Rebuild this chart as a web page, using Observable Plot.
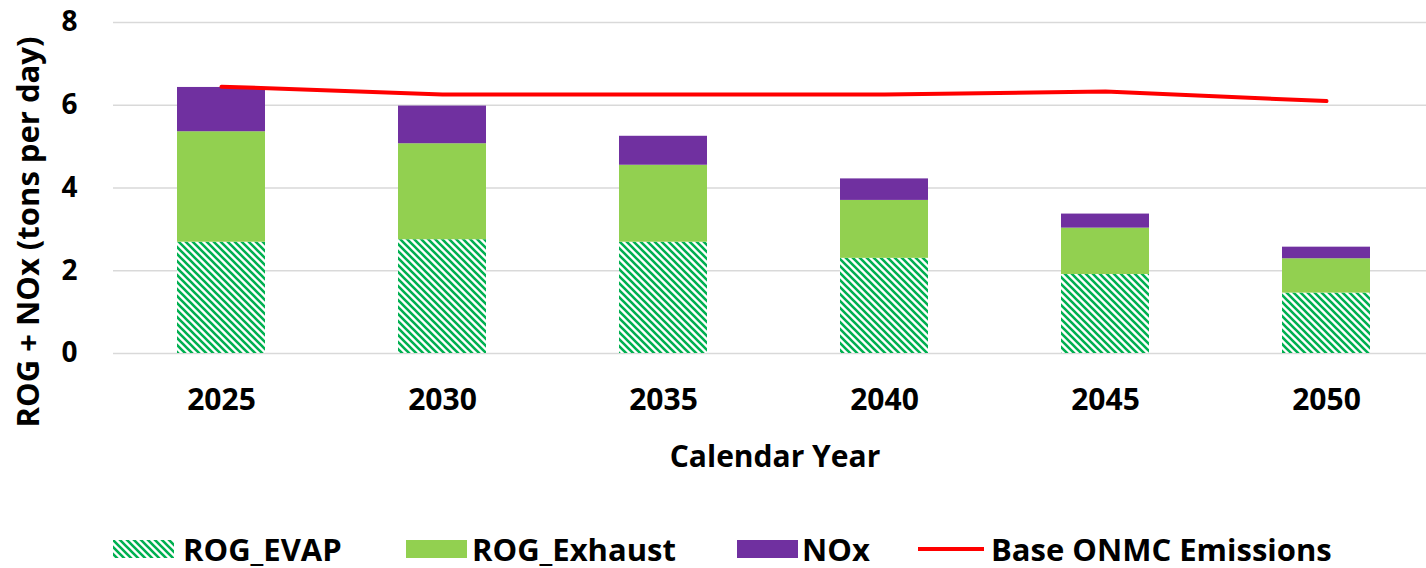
<!DOCTYPE html>
<html><head><meta charset="utf-8">
<script src="https://cdn.jsdelivr.net/npm/d3@7"></script>
<script src="https://cdn.jsdelivr.net/npm/@observablehq/plot@0.6"></script>
<style>
body{margin:0;background:#fff;font-family:"Open Sans",sans-serif;}
#legend{position:relative;width:1426px;height:68px;}
.sw{position:absolute;top:40px;height:18px;width:61px;}
.lt{position:absolute;top:30px;height:38px;line-height:38px;font-size:31px;font-weight:700;color:#000;white-space:nowrap;}
</style></head><body><div id="chart"></div><div id="legend"></div>
<script>
const years = ["2025","2030","2035","2040","2045","2050"];
const seriesNames = ["ROG_EVAP","ROG_Exhaust","NOx"];
const rogEvap = [2.69,2.75,2.69,2.30,1.91,1.46];
const rogExhaust = [2.67,2.32,1.86,1.40,1.12,0.83];
const nox = [1.07,0.91,0.70,0.52,0.34,0.28];
const baseEmissions = [6.45,6.26,6.26,6.26,6.33,6.10];
const yTicks = [0,2,4,6,8];
const colors = ["url(#hatch)","#92D050","#7030A0"];

const seriesValues = [rogEvap, rogExhaust, nox];
const rows = [];
years.forEach((yr,i)=>seriesNames.forEach((s,j)=>rows.push({year:yr, series:s, value:seriesValues[j][i]})));
const lineRows = years.map((yr,i)=>({year:yr, v:baseEmissions[i]}));

const chart = Plot.plot({
  width:1426, height:500,
  marginLeft:113, marginRight:0, marginTop:22, marginBottom:147,
  style:{fontFamily:"'Open Sans', sans-serif", fontWeight:"700", color:"#000", background:"#fff", overflow:"visible"},
  x:{domain:years, paddingInner:0.6, paddingOuter:0.27, align:0.535, label:null},
  y:{domain:[0,8], label:null},
  color:{domain:seriesNames, range:colors},
  marks:[
    Plot.gridY(yTicks, {stroke:"#D9D9D9", strokeOpacity:1, strokeWidth:1.5}),
    Plot.axisY(yTicks, {tickSize:0, tickPadding:36, label:null, fontSize:28}),
    Plot.axisX({tickSize:0, tickPadding:35, label:null, fontSize:30}),
    Plot.barY(rows, {x:"year", y:"value", fill:"series"}),
    Plot.line(lineRows, {x:"year", y:"v", stroke:"#FF0000", strokeWidth:4}),
    Plot.text(["Calendar Year"], {frameAnchor:"bottom", textAnchor:"middle", dx:5, dy:113, fontSize:30, fontWeight:"bold", fill:"#000"}),
    Plot.text(["ROG + NOx (tons per day)"], {frameAnchor:"left", textAnchor:"middle", rotate:-90, dx:-84, dy:44, fontSize:31, fontWeight:"bold", fill:"#000"})
  ]
});
const ns = "http://www.w3.org/2000/svg";
function makePattern(id){
  const p = document.createElementNS(ns,"pattern");
  p.setAttribute("id",id); p.setAttribute("patternUnits","userSpaceOnUse");
  p.setAttribute("width","7"); p.setAttribute("height","7");
  const r = document.createElementNS(ns,"rect");
  r.setAttribute("width","7"); r.setAttribute("height","7"); r.setAttribute("fill","#fff");
  const path = document.createElementNS(ns,"path");
  path.setAttribute("d","M0,0L7,7M-3.5,3.5L3.5,10.5M3.5,-3.5L10.5,3.5");
  path.setAttribute("stroke","#00B050"); path.setAttribute("stroke-width","2.6");
  p.appendChild(r); p.appendChild(path);
  const defs = document.createElementNS(ns,"defs"); defs.appendChild(p);
  return defs;
}
chart.insertBefore(makePattern("hatch"), chart.firstChild);
document.getElementById("chart").appendChild(chart);

const legend = document.getElementById("legend");
const legendItems = [
  {label:seriesNames[0], kind:"hatch", sx:113, tx:183},
  {label:seriesNames[1], kind:colors[1], sx:406, tx:472},
  {label:seriesNames[2], kind:colors[2], sx:737, tx:802},
  {label:"Base ONMC Emissions", kind:"line", sx:918, tx:991}
];
legendItems.forEach(it=>{
  if(it.kind==="hatch"){
    const s = document.createElementNS(ns,"svg");
    s.setAttribute("class","sw"); s.setAttribute("width","61"); s.setAttribute("height","18");
    s.style.left = it.sx+"px";
    s.appendChild(makePattern("hatch2"));
    const r = document.createElementNS(ns,"rect");
    r.setAttribute("width","61"); r.setAttribute("height","18"); r.setAttribute("fill","url(#hatch2)");
    s.appendChild(r); legend.appendChild(s);
  } else if(it.kind==="line"){
    const d = document.createElement("div");
    d.style.cssText = `position:absolute;left:${it.sx}px;top:47px;width:66px;height:4px;background:#FF0000;`;
    legend.appendChild(d);
  } else {
    const d = document.createElement("div");
    d.className="sw"; d.style.left = it.sx+"px"; d.style.background = it.kind;
    legend.appendChild(d);
  }
  const t = document.createElement("div");
  t.className="lt"; t.style.left = it.tx+"px"; t.textContent = it.label;
  legend.appendChild(t);
});
</script>
</body></html>
